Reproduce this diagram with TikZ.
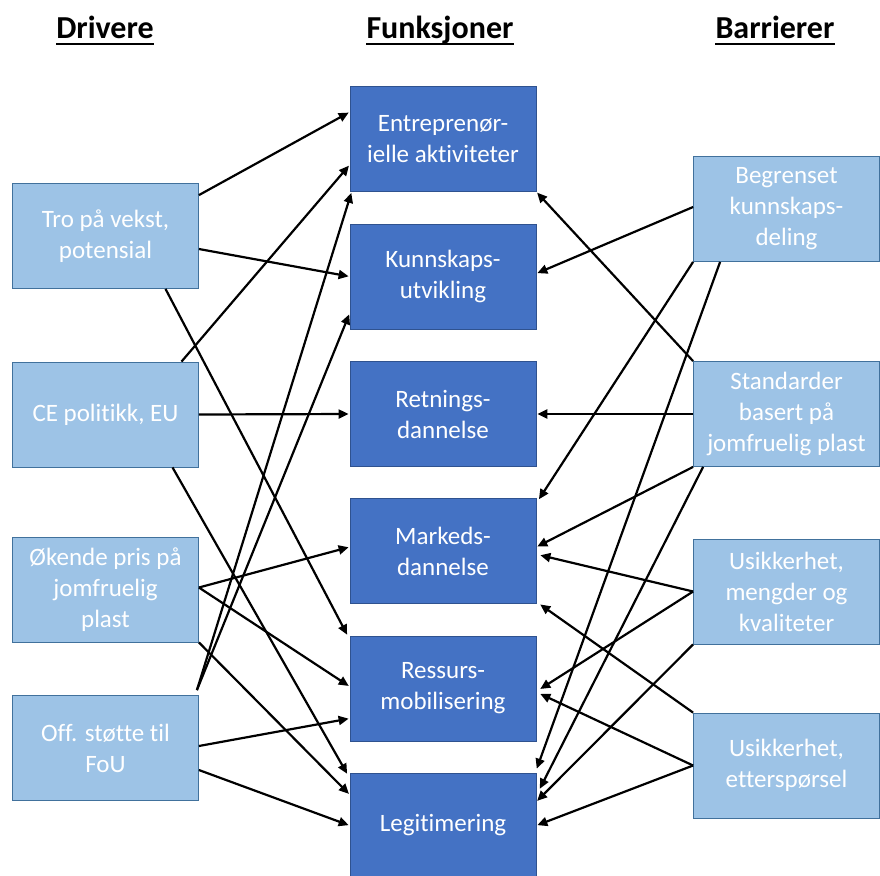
\documentclass[tikz,border=0pt]{standalone}
\usepackage{fontspec}
\setmainfont{Carlito}[Ligatures={NoCommon}]
\usetikzlibrary{arrows.meta,calc}
\definecolor{lightb}{HTML}{9DC3E6}
\definecolor{lightbd}{HTML}{41719C}
\definecolor{darkb}{HTML}{4472C4}
\definecolor{darkbd}{HTML}{2F528F}
\tikzset{
  base box/.style={rectangle, minimum width=186pt, minimum height=105pt, align=center,
    text=white, font=\fontsize{25}{31}\selectfont, line width=0.8pt, inner sep=2pt},
  drvbox/.style={base box, fill=lightb, draw=lightbd},
  fnbox/.style={base box, fill=darkb, draw=darkbd},
  hdr/.style={font=\fontsize{32}{36}\selectfont\bfseries, inner sep=0pt, anchor=base},
  conn/.style={line width=2.2pt, -{Triangle[length=10pt,width=9pt]}, shorten >=1pt}
}
\begin{document}
\begin{tikzpicture}[x=1pt,y=-1pt]
\useasboundingbox (0,0) rectangle (880,875);
\clip (0,0) rectangle (880,875);
% headers
\node[hdr] (h1) at (105,39) {Drivere};
\node[hdr] (h2) at (440,39) {Funksjoner};
\node[hdr] (h3) at (775,39) {Barrierer};
\foreach \h in {h1,h2,h3}{
  \draw[line width=2pt] ([yshift=-5pt]\h.base west) -- ([yshift=-5pt]\h.base east);
}
% left
\node[drvbox] (tro) at (105.5,236) {Tro på vekst,\\potensial};
\node[drvbox] (ce)  at (105.5,414.5) {CE politikk, EU};
\node[drvbox] (ok)  at (105.5,589.5) {Økende pris på\\jomfruelig\\plast};
\node[drvbox] (off) at (105.5,748) {Off. støtte til\\FoU};
% middle
\node[fnbox] (ent) at (443,139) {Entreprenør-\\ielle aktiviteter};
\node[fnbox] (kun) at (443,276.5) {Kunnskaps-\\utvikling};
\node[fnbox] (ret) at (443,414) {Retnings-\\dannelse};
\node[fnbox] (mar) at (443,551) {Markeds-\\dannelse};
\node[fnbox] (res) at (443,688.5) {Ressurs-\\mobilisering};
\node[fnbox] (leg) at (443,825.5) {Legitimering};
% right
\node[drvbox] (beg) at (786.5,209) {Begrenset\\kunnskaps-\\deling};
\node[drvbox] (std) at (786.5,414) {Standarder\\basert på\\jomfruelig plast};
\node[drvbox] (usm) at (786.5,591.5) {Usikkerhet,\\mengder og\\kvaliteter};
\node[drvbox] (use) at (786.5,765.5) {Usikkerhet,\\etterspørsel};
% left connectors
\draw[conn] ([yshift=-12pt]tro.north east) -- ([yshift=-26pt]ent.north west);
\draw[conn] ([yshift=-13pt]tro.east) -- (kun.west);
\draw[conn] ([xshift=60pt]tro.south) -- ([xshift=-2pt]res.north west);
\draw[conn] ([xshift=76pt]ce.north) -- ([yshift=27pt]ent.south west);
\draw[conn] (ce.east) -- (ret.west);
\draw[conn] ([xshift=67pt]ce.south) -- ([xshift=-2pt,yshift=-2pt]leg.north west);
\draw[conn] ([yshift=2pt]ok.east) -- ([yshift=4pt]mar.west);
\draw[conn] ([yshift=2pt]ok.east) -- ([yshift=2pt]res.west);
\draw[conn] (ok.south east) -- ([yshift=-22pt]leg.north west);
\draw[conn] ([xshift=-2pt,yshift=5pt]off.north east) -- ([xshift=2pt]ent.south west);
\draw[conn] ([xshift=-2pt,yshift=5pt]off.north east) -- ([yshift=16pt]kun.south west);
\draw[conn] ([yshift=2pt]off.east) -- ([yshift=-30pt]res.west);
\draw[conn] ([yshift=-22pt]off.east) -- (leg.west);
% right connectors
\draw[conn] ([yshift=2pt]beg.west) -- ([yshift=3pt]kun.east);
\draw[conn] (beg.south west) -- ([xshift=2pt,yshift=-2pt]mar.north east);
\draw[conn] ([xshift=27pt]beg.south west) -- ([yshift=3pt]leg.north east);
\draw[conn] (std.north west) -- (ent.south east);
\draw[conn] (std.west) -- (ret.east);
\draw[conn] (std.south west) -- ([yshift=4pt]mar.east);
\draw[conn] ([xshift=10pt]std.south west) -- ([xshift=3pt,yshift=-17pt]leg.north east);
\draw[conn] (usm.west) -- ([xshift=3pt,yshift=-4pt]mar.east);
\draw[conn] (usm.west) -- ([xshift=3pt,yshift=-1pt]res.east);
\draw[conn] (usm.south west) -- ([yshift=-29pt]leg.north east);
\draw[conn] (use.north west) -- ([xshift=3pt]mar.south east);
\draw[conn] (use.west) -- ([xshift=3pt,yshift=-5pt]res.east);
\draw[conn] (use.west) -- (leg.east);
\end{tikzpicture}
\end{document}
